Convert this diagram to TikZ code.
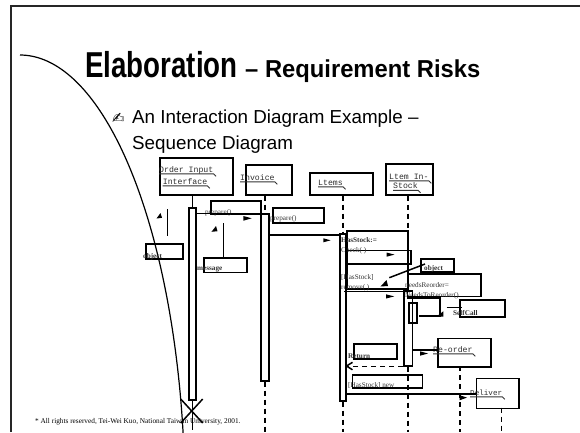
\documentclass[tikz,border=0pt]{standalone}
\usepackage{fontspec}
\usepackage{graphicx}
\setmainfont{Liberation Sans}
\newfontfamily\serifsm{Liberation Serif}
\newfontfamily\monosm{Liberation Mono}
\newfontfamily\symfont{DejaVu Sans}
\usetikzlibrary{calc}

% underline with the little trailing hook under a lifeline name
\newcommand{\ulname}[1]{%
  \draw[ul] ($(#1.base west)+(0,1.8)$) -- ($(#1.base east)+(0,1.8)$) -- ++(2.5,2.5);}

\begin{document}
\begin{tikzpicture}[x=1pt,y=-1pt,
  box/.style={draw, line width=1.5pt, inner sep=0pt, anchor=north west},
  bar/.style={box},
  life/.style={line width=1.5pt, dash pattern=on 5pt off 4pt},
  shaft/.style={line width=1.5pt},
  thick loop/.style={line width=2.2pt},
  ul/.style={line width=0.9pt, black!80},
  lbl/.style={anchor=base west, inner sep=0pt, text=black!80,
              font=\serifsm\fontsize{7.2}{8}\selectfont},
  lblb/.style={lbl, font=\serifsm\bfseries\fontsize{7.2}{8}\selectfont},
  objname/.style={anchor=base west, inner sep=0pt, text=black!82,
              font=\monosm\fontsize{8.2}{9}\selectfont},
  txt/.style={anchor=base west, inner sep=0pt}]

\useasboundingbox (0,0) rectangle (580,432);
\coordinate (floor) at (0,432);

% slide frame
\draw[line width=2pt, black!85] (10.5,432) -- (10.5,5.5) -- (580,5.5);

% decorative arc on the left
\draw[line width=1.2pt] plot[domain=0:82, samples=80]
  ({20+165*sin(\x)}, {500-445*cos(\x)});

% title and subtitle
\node[txt] (ttlA) at (85,77.3)
  {\fontsize{36}{40}\selectfont\bfseries\scalebox{0.77}[1]{Elaboration}};
\node[txt] (ttlB) at (245,77.3)
  {\fontsize{24.5}{28}\selectfont\bfseries\scalebox{0.97}[1]{– Requirement Risks}};
\node[txt] (pen) at (112,123.5) {\symfont\fontsize{15}{16}\selectfont ✍};
\node[txt] (sub1) at (132,123.3)
  {\fontsize{18.8}{20}\selectfont An Interaction Diagram Example –};
\node[txt] (sub2) at (132,149)
  {\fontsize{18.8}{20}\selectfont Sequence Diagram};

% footer
\node[txt] (foot) at (35,423)
  {\serifsm\fontsize{7.3}{8}\selectfont * All rights reserved, Tei-Wei Kuo, National Taiwan University, 2001.};

% object heads
\node[box, minimum width=73pt, minimum height=37pt] (hOrder) at (159,157) {};
\node[box, minimum width=46pt, minimum height=30pt] (hInv)   at (245,164) {};
\node[box, minimum width=63pt, minimum height=22pt] (hItems) at (309,172) {};
\node[box, minimum width=47pt, minimum height=31pt] (hStock) at (385,163) {};

\node[objname] (nOrd1) at (159,172) {Order Input};
\node[objname] (nOrd2) at (162.7,184) {Interface};
\node[objname] (nInv)  at (240,180) {Invoice};
\node[objname] (nItm)  at (318,185) {Ltems};
\node[objname] (nStk1) at (389,179) {Ltem In-};
\node[objname] (nStk2) at (393,188.5) {Stock};
\ulname{nOrd1}\ulname{nOrd2}\ulname{nInv}\ulname{nItm}\ulname{nStk1}\ulname{nStk2}

% message / note boxes
\node[box, minimum width=50pt, minimum height=13.5pt] (prepA) at (210,200) {};
\node[box, minimum width=51pt, minimum height=15pt]   (prepB) at (272,207) {};
\node[box, minimum width=37pt, minimum height=15pt]   (objA)  at (145,243) {};
\node[box, minimum width=43pt, minimum height=14.5pt] (msgA)  at (203,257.3) {};
\node[box, minimum width=61pt, minimum height=58pt]   (hsOut) at (346,230) {};
\node[box, minimum width=64pt, minimum height=13.5pt] (chk)   at (346,249.5) {};
\node[box, minimum width=33pt, minimum height=13pt]   (objB)  at (420,258) {};
\node[box, minimum width=73.3pt, minimum height=22.4pt] (needs) at (406.7,273.3) {};
\node[box, minimum width=44.7pt, minimum height=16.7pt] (selfc) at (459.3,299.3) {};
\node[box, minimum width=42.7pt, minimum height=15pt]   (retB)  at (353.3,343.3) {};
\node[box, minimum width=52.7pt, minimum height=28.3pt] (reord) at (437.3,337.7) {};
\node[box, minimum width=70pt, minimum height=13.3pt]   (hsnew) at (351.7,374) {};
\node[box, minimum width=42.6pt, minimum height=30pt]   (deliv) at (475.7,377.7) {};

% labels
\node[lbl]  (lPrepA) at (205,214) {prepare()};
\node[lbl]  (lPrepB) at (270,220.5) {prepare()};
\node[lblb] (lObjA)  at (143,258) {object};
\node[lblb] (lMsg)   at (197,270.5) {message};
\node[lblb] (lHas)   at (341,242.7) {HasStock:=};
\node[lbl]  (lChk)   at (341,252.5) {Check( )};
\node[lbl]  (lHs2)   at (341,279) {[HasStock]};
\node[lbl]  (lRem)   at (341,289) {remove( )};
\node[lblb] (lObjB)  at (424,270) {object};
\node[lbl]  (lNeed)  at (405,287) {needsReorder=};
\node[lbl]  (lNeed2) at (405,297.5) {NeedsToReorder()};
\node[lblb] (lSelf)  at (453,315) {SelfCall};
\node[lblb] (lRet)   at (348,358) {Return};
\node[lbl]  (lNew)   at (348,387) {[HasStock] new};
\node[objname] (lReo) at (433,352) {Re-order};
\node[objname, font=\monosm\fontsize{7.6}{9}\selectfont] (lDel) at (470,395) {Deliver};
\ulname{lReo}\ulname{lDel}

% activation bars
\node[bar, minimum width=6.7pt, minimum height=192pt] (bOrder) at (188.3,207) {};
\node[bar, minimum width=8pt,   minimum height=167pt] (bInv)   at (260,213) {};
\node[bar, minimum width=6pt,   minimum height=167pt] (bItems) at (339,233) {};
\node[bar, minimum width=8.5pt, minimum height=75pt]  (bStock) at (403,290) {};
\node[bar, minimum width=8pt,   minimum height=20pt]  (bSelf)  at (408,302) {};

% lifelines above the activations
\draw[shaft] (bOrder.north |- hOrder.south) -- (bOrder.north);
\draw[life]  (bInv.north |- hInv.south) -- (bInv.north);
\draw[life]  (bItems.north |- hItems.south) -- (bItems.north);
\draw[life]  (bStock.north |- hStock.south) -- (bStock.north |- hsOut.north);

% lifelines below the activations
\draw[life] (bInv.south) -- (bInv.south |- floor);
\draw[life] (bItems.south) -- (bItems.south |- floor);
\draw[life] (bStock.south) -- (bStock.south |- floor);
\coordinate (reoTail) at (460,366);
\draw[life] (reoTail) -- (reoTail |- floor);
\coordinate (delTail) at (501.7,407.7);
\draw[life] (delTail) -- (delTail |- floor);

% destruction of the interface object
\draw[shaft] (bOrder.south) -- ($(bOrder.south |- floor)+(0,-2)$);
\coordinate (xc) at (191.7,411);
\draw[shaft] ($(xc)+(-11,-12)$) -- ($(xc)+(11,12)$);
\draw[shaft] ($(xc)+(11,-12)$) -- ($(xc)+(-11,12)$);

% message shafts
\coordinate (p1s) at (195,213.7);  \coordinate (p1e) at (268,213.7);
\draw[shaft] (p1s) -- (p1e);
\coordinate (p2s) at (268,235);    \coordinate (p2e) at (340,235);
\draw[shaft] (p2s) -- (p2e);
\coordinate (v1a) at (167.3,209);  \coordinate (v1b) at (167.3,236);
\draw[shaft] (v1a) -- (v1b);
\coordinate (v2a) at (223.3,223);  \coordinate (v2b) at (223.3,257.3);
\draw[shaft] (v2a) -- (v2b);
\coordinate (dga) at (389.3,277.7); \coordinate (dgb) at (425,264);
\draw[shaft] (dga) -- (dgb);
\coordinate (rma) at (344,291.7);  \coordinate (rmb) at (407,291.7);
\draw[shaft] (rma) -- (rmb);
\coordinate (sla) at (407,297.5);  \coordinate (slb) at (440,297.5);
\coordinate (slc) at (440,316);    \coordinate (sld) at (419,316);
\draw[thick loop] (sla) -- (slb) -- (slc) -- (sld);
\coordinate (sca) at (446.7,307.7); \coordinate (scb) at (461.7,307.7);
\draw[shaft] (sca) -- (scb);
\draw[shaft] (bStock.east |- 0,350) -- (reord.west |- 0,350);
\draw[life] (bStock.south west) -- ($(bItems.east |- bStock.south west)+(1.5,0)$);
\draw[shaft] (bItems.east |- 0,394) -- (deliv.west |- 0,394);

% arrowheads
\fill (156.5,218.5) -- (162,217.8) -- (160.5,213) -- cycle;
\fill (211.5,231.8) -- (217.5,231.2) -- (216,226) -- cycle;
\fill (243.3,216) -- (243.3,220.7) -- (251.7,218.3) -- cycle;
\fill (323.3,238.3) -- (323.3,242.3) -- (330.7,240.3) -- cycle;
\fill (386.5,252.5) -- (386.5,256.7) -- (394.5,254.6) -- cycle;
\fill (380.5,286.5) -- (388,286) -- (386.5,280) -- cycle;
\fill (386,294.3) -- (386,298.5) -- (394.3,296.4) -- cycle;
\fill (436.5,316.5) -- (443.3,316.5) -- (443.3,311.3) -- cycle;
\fill (420,351.3) -- (420,355.7) -- (428,353.5) -- cycle;
\fill (459.5,395.2) -- (459.5,400.3) -- (467,397.6) -- cycle;
\draw[shaft] (352.5,362.3) -- (346.5,366) -- (352.5,369.8);
\end{tikzpicture}
\end{document}
